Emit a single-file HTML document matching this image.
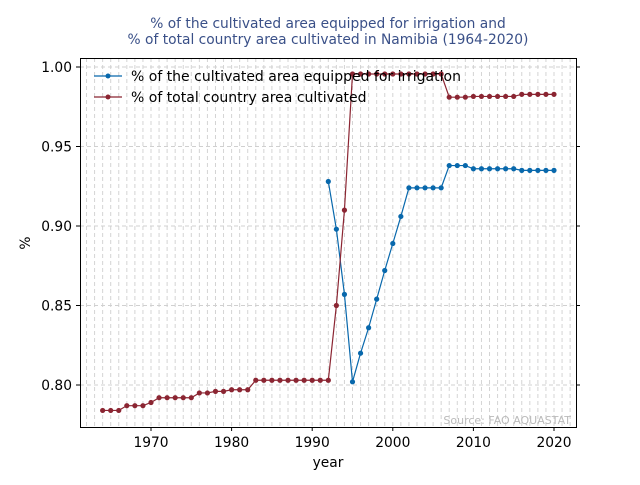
<!DOCTYPE html>
<html><head><meta charset="utf-8"><style>
body{margin:0;background:#fff;}
svg{font-family:"DejaVu Sans","Liberation Sans",sans-serif;}
</style></head><body>
<svg width="640" height="480" id="c">
<text x="328" y="28" text-anchor="middle" font-size="13.8" fill="#3a5088">% of the cultivated area equipped for irrigation and</text>
<text x="328" y="44" text-anchor="middle" font-size="13.8" fill="#3a5088">% of total country area cultivated in Namibia (1964-2020)</text>
<g id="grid"></g><g id="series"></g><g id="axes"></g>
<rect x="80.5" y="58.5" width="496" height="369" fill="none" stroke="#000" stroke-width="1"/>
<text x="328" y="467" text-anchor="middle" font-size="13.8">year</text>
<text x="30" y="243" text-anchor="middle" font-size="13.8" transform="rotate(-90 30 243)">%</text>
<text x="571" y="424" text-anchor="end" font-size="11" fill="#bbb">Source: FAO AQUASTAT</text>
<g>
<line x1="94" y1="76" x2="122" y2="76" stroke="#0868ac" stroke-width="1.2"/><circle cx="108" cy="76" r="2.5" fill="#0868ac"/>
<text x="131" y="81" font-size="14">% of the cultivated area equipped for irrigation</text>
<line x1="94" y1="97" x2="122" y2="97" stroke="#8b2532" stroke-width="1.2"/><circle cx="108" cy="97" r="2.5" fill="#8b2532"/>
<text x="131" y="102" font-size="14">% of total country area cultivated</text>
</g>
</svg>
<script>
const cultYears=[1964,1965,1966,1967,1968,1969,1970,1971,1972,1973,1974,1975,1976,1977,1978,1979,1980,1981,1982,1983,1984,1985,1986,1987,1988,1989,1990,1991,1992,1993,1994,1995,1996,1997,1998,1999,2000,2001,2002,2003,2004,2005,2006,2007,2008,2009,2010,2011,2012,2013,2014,2015,2016,2017,2018,2019,2020];
const cultVals=[0.784,0.784,0.784,0.787,0.787,0.787,0.789,0.792,0.792,0.792,0.792,0.792,0.795,0.795,0.796,0.796,0.797,0.797,0.797,0.803,0.803,0.803,0.803,0.803,0.803,0.803,0.803,0.803,0.803,0.850,0.910,0.9956,0.9956,0.9956,0.9956,0.9956,0.9956,0.9956,0.9956,0.9956,0.9956,0.9956,0.9956,0.981,0.981,0.981,0.9815,0.9815,0.9815,0.9815,0.9815,0.9815,0.9828,0.9828,0.9828,0.9828,0.9828];
const irrYears=[1992,1993,1994,1995,1996,1997,1998,1999,2000,2001,2002,2003,2004,2005,2006,2007,2008,2009,2010,2011,2012,2013,2014,2015,2016,2017,2018,2019,2020];
const irrVals=[0.928,0.898,0.857,0.802,0.820,0.836,0.854,0.872,0.889,0.906,0.924,0.924,0.924,0.924,0.924,0.938,0.938,0.938,0.936,0.936,0.936,0.936,0.936,0.936,0.935,0.935,0.935,0.935,0.935];
const xTicks=[1970,1980,1990,2000,2010,2020];
const yTicks=[0.80,0.85,0.90,0.95,1.00];
const NS="http://www.w3.org/2000/svg";
function X(v){return 151+(v-1970)*8.06;}
function Y(v){return 385-(v-0.80)*1590;}
function mk(t,a,p){const e=document.createElementNS(NS,t);for(const k in a)e.setAttribute(k,a[k]);p.appendChild(e);return e;}
const grid=document.getElementById('grid'),axes=document.getElementById('axes'),ser=document.getElementById('series');
for(let yr=1962;yr<=2022;yr++){const l=mk('line',{x1:X(yr),x2:X(yr),y1:58,y2:427,stroke:'#d4d4d4','stroke-dasharray':'4,3','stroke-width':1},grid);

}
yTicks.forEach(v=>{const l=mk('line',{x1:80,x2:576,y1:Y(v),y2:Y(v),stroke:'#d0d0d0','stroke-dasharray':'4,3'},grid);


mk('line',{x1:76,x2:80,y1:Y(v),y2:Y(v),stroke:'#000'},axes);
mk('line',{x1:576,x2:580,y1:Y(v),y2:Y(v),stroke:'#000'},axes);
const t=mk('text',{x:72,y:Y(v)+5,'text-anchor':'end','font-size':13.8},axes);t.textContent=v.toFixed(2);

});
xTicks.forEach(v=>{mk('line',{x1:X(v),x2:X(v),y1:427,y2:431,stroke:'#000'},axes);
const t=mk('text',{x:X(v),y:447,'text-anchor':'middle','font-size':13.8},axes);t.textContent=v;

});
function draw(xs,ys,c,name){const p=mk('polyline',{points:xs.map((x,i)=>X(x)+','+Y(ys[i])).join(' '),fill:'none',stroke:c,'stroke-width':1.2},ser);


xs.forEach((x,i)=>{const d=mk('circle',{cx:X(x),cy:Y(ys[i]),r:2.6,fill:c},ser);

});}
draw(irrYears,irrVals,'#0868ac','irrigation');
draw(cultYears,cultVals,'#8b2532','cultivated');
</script>
</body></html>
